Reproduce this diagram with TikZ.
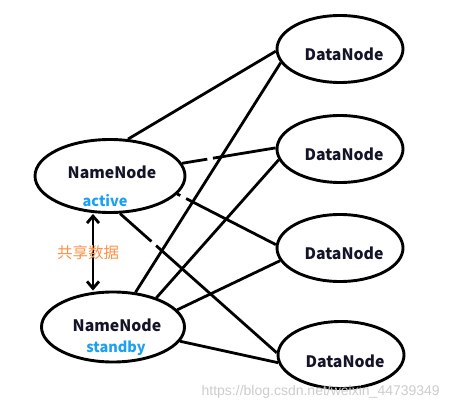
\documentclass[tikz,border=0pt]{standalone}
\usepackage{fontspec}
\setmainfont{Noto Sans CJK SC}
\newfontfamily\wmfont{Liberation Sans}
\usetikzlibrary{shapes.geometric,arrows.meta,calc}
\definecolor{actblue}{HTML}{1BA1F0}
\definecolor{shareorange}{HTML}{FF8F45}
\definecolor{txtdark}{HTML}{141428}
\begin{document}
\begin{tikzpicture}[x=1pt,y=-1pt,
  ell/.style={draw,ellipse,line width=2.9pt,inner sep=0pt},
  dnell/.style={ell,minimum width=126pt,minimum height=67pt},
  conn/.style={line width=2.8pt},
  maintxt/.style={font=\fontsize{15.8}{16}\selectfont\bfseries,text=txtdark,inner sep=0pt},
  subtxt/.style={font=\fontsize{14.5}{15}\selectfont\bfseries,text=actblue,inner sep=0pt}]
\useasboundingbox (0,0) rectangle (449,411);
% NameNodes
\node[ell,minimum width=150pt,minimum height=73pt] (nna) at (110,176) {};
\node[ell,minimum width=143pt,minimum height=70pt] (nns) at (113,327) {};
\node[maintxt] (nnat) at (112,172) {NameNode};
\node[subtxt] (nnas) at (105,201) {active};
\node[maintxt] (nnst) at (117,325) {NameNode};
\node[subtxt] (nnss) at (116,348) {standby};
% DataNodes
\node[dnell] (dn1) at (340,49) {};
\node[dnell] (dn2) at (340,149) {};
\node[dnell] (dn3) at (340,248) {};
\node[dnell] (dn4) at (341,355) {};
\node[maintxt] (dn1t) at (344,54) {DataNode};
\node[maintxt] (dn2t) at (344,154) {DataNode};
\node[maintxt] (dn3t) at (344,253) {DataNode};
\node[maintxt] (dn4t) at (345,361) {DataNode};
% shared data arrow
\draw[conn,{Straight Barb[length=7pt,width=12pt]}-{Straight Barb[length=7pt,width=12pt]}] (nna.south -| 93,0) -- (nns.north -| 93,0);
\node[font=\fontsize{15.5}{16}\selectfont,text=shareorange,inner sep=0pt] (share) at (88,253) {共享数据};
% active connectors
\draw[conn] (nna.64.7) -- (dn1.182.7);
\draw[conn] (nna.10.2) -- ($(nna.10.2)!0.27!(dn2.179)$);
\draw[conn] ($(nna.10.2)!0.33!(dn2.179)$) -- (dn2.179);
\draw[conn] (nna.-15.6) -- ($(nna.-15.6)!0.03!(dn3.177)$);
\draw[conn] ($(nna.-15.6)!0.09!(dn3.177)$) -- (dn3.177);
\draw[conn] (nna.-75) -- ($(nna.-75)!0.2!(dn4.178)$);
\draw[conn] ($(nna.-75)!0.23!(dn4.178)$) -- (dn4.178);
% standby connectors
\draw[conn] (nns.57.7) -- (dn1.193);
\draw[conn] (nns.34) -- (dn2.190.7);
\draw[conn] (nns.15.8) -- (dn3.192.6);
\draw[conn] (nns.-12.3) -- (dn4.187);
% watermark
\node[font=\wmfont\fontsize{14}{14}\selectfont,text=black!20,inner sep=0pt,anchor=east] (wm) at (440,392) {https://blog.csdn.net/weixin\_44739349};
\end{tikzpicture}
\end{document}
